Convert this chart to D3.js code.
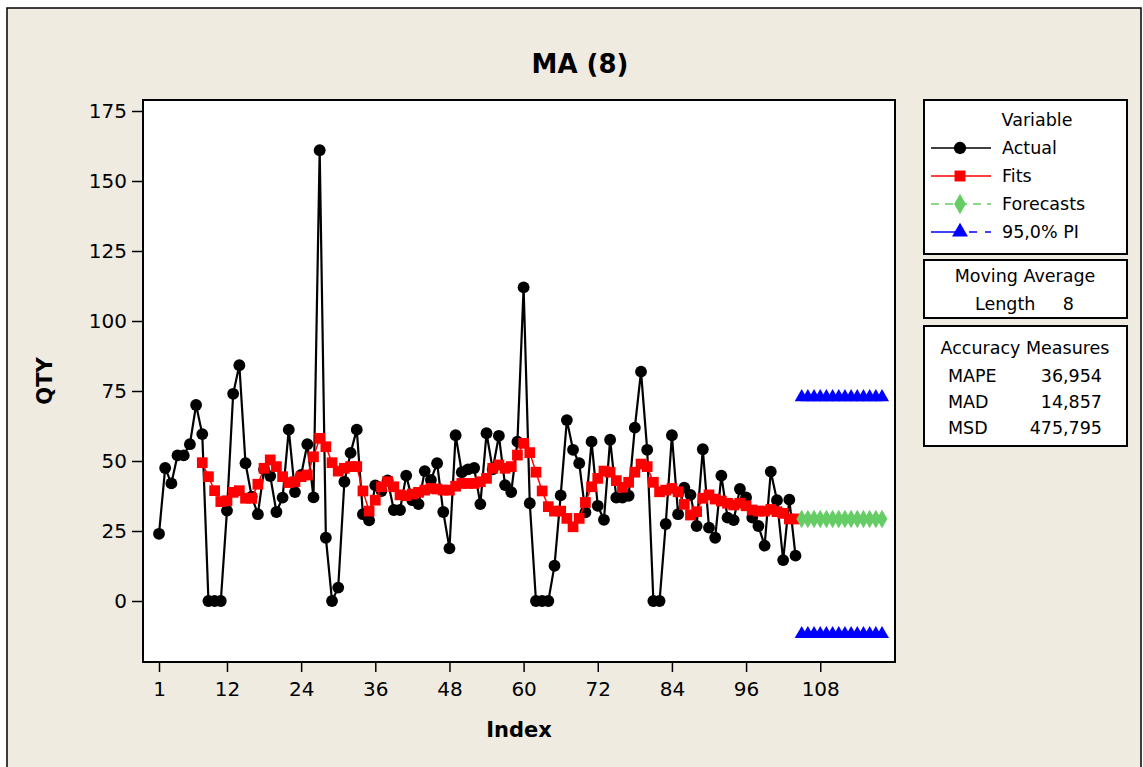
<!DOCTYPE html>
<html>
<head>
<meta charset="utf-8">
<script src="https://cdn.jsdelivr.net/npm/d3@7"></script>
<style>
  html, body { margin: 0; padding: 0; background: #fff; }
  svg { display: block; }
  text { font-family: "DejaVu Sans", Verdana, sans-serif; }
</style>
</head>
<body>
<svg id="chart"></svg>
<script>
// actual values, index 1..104
const actual = [24, 47.5, 42, 52, 52, 56, 70, 59.6, 0, 0, 0, 32.3, 74, 84.2, 49.2, 37.3,
  31, 47, 44.6, 31.8, 36.9, 61.2, 38.9, 45, 56, 37, 161, 22.6, 0, 4.8, 42.6, 52.9,
  61.2, 31, 28.8, 41.3, 39.3, 43.1, 32.5, 32.5, 44.8, 36, 34.6, 46.4, 43.2, 49.2, 31.8, 18.8,
  59.2, 46, 47, 47.5, 34.6, 59.9, 47, 59, 41.4, 38.9, 56.9, 112, 34.9, 0, 0, 0,
  12.6, 37.7, 64.6, 54, 49.2, 31.7, 56.9, 34, 29, 57.6, 36.9, 36.9, 37.6, 61.9, 81.9, 54,
  0, 0, 27.5, 59.2, 31, 40.5, 37.9, 26.8, 54.2, 26.2, 22.6, 44.8, 29.8, 28.9, 40, 37,
  29.8, 26.8, 19.8, 46.2, 36, 14.6, 36.2, 16.2];

// moving average fits, index 8..104
const fitsStart = 8;
const fits = [49.4, 44.4, 39.4, 35.5, 35.8, 38.8, 39.4, 36.7, 36.7, 41.7, 47.4, 50.4, 48,
  44.4, 42.3, 42.6, 44.4, 45, 51.5, 58.1, 55.1, 49.4, 46.4, 47.4, 48, 48, 39.3, 32.1,
  36, 40.8, 42.6, 40.8, 37.9, 37.6, 38.2, 38.8, 39.6, 40.2, 40, 39.6, 39.6, 41, 42, 42,
  42, 42.6, 43.8, 47.4, 48.6, 47.4, 48, 52.1, 56.3, 53, 46, 39.3, 33.7, 32.1, 32.1, 29.5,
  26.5, 29.5, 35.2, 40.8, 43.8, 46.4, 46, 43, 40.6, 42.4, 46, 48.9, 48, 42.4, 39, 39.6,
  40.2, 39, 34.5, 30.7, 31.9, 36.7, 37.9, 36.4, 35.7, 34.9, 34.3, 34.9, 34, 32.5, 32.1,
  32.1, 32.7, 31.9, 31.3, 29.3, 29.3];

// forecasts and 95% PI, index 105..118
const fcStart = 105;
const forecasts = [29.3, 29.3, 29.3, 29.3, 29.3, 29.3, 29.3, 29.3, 29.3, 29.3, 29.3, 29.3, 29.3, 29.3];
const upperPI = [72.8, 72.8, 72.8, 72.8, 72.8, 72.8, 72.8, 72.8, 72.8, 72.8, 72.8, 72.8, 72.8, 72.8];
const lowerPI = [-11.8, -11.8, -11.8, -11.8, -11.8, -11.8, -11.8, -11.8, -11.8, -11.8, -11.8, -11.8, -11.8, -11.8];

const xTicks = [1, 12, 24, 36, 48, 60, 72, 84, 96, 108];
const yTicks = [0, 25, 50, 75, 100, 125, 150, 175];

const legendItems = ["Actual", "Fits", "Forecasts", "95,0% PI"];
const measureNames = ["MAPE", "MAD", "MSD"];
const measureValues = ["36,954", "14,857", "475,795"];

const width = 1143, height = 767;
const L = 143, R = 895, T = 100, B = 662;

const svg = d3.select("#chart")
  .attr("width", width)
  .attr("height", height)
  .attr("viewBox", [0, 0, width, height]);

// outer panel
svg.append("rect")
  .attr("x", 7).attr("y", 8)
  .attr("width", 1134).attr("height", 780)
  .attr("fill", "#efebe1")
  .attr("stroke", "#000")
  .attr("stroke-width", 1.5);

const x = d3.scaleLinear().domain([-1.59, 120.1]).range([L, R]);
const y = d3.scaleLinear().domain([0, 175]).range([601, 111]);

// plot area
svg.append("rect")
  .attr("x", L).attr("y", T)
  .attr("width", R - L).attr("height", B - T)
  .attr("fill", "#fff")
  .attr("stroke", "#000")
  .attr("stroke-width", 2);

// title
svg.append("text")
  .attr("x", 580).attr("y", 73)
  .attr("text-anchor", "middle")
  .style("font-size", "26px")
  .style("font-weight", "bold")
  .text("MA (8)");

// axes
const yAxis = svg.append("g")
  .attr("transform", `translate(${L},0)`)
  .call(d3.axisLeft(y).tickValues(yTicks).tickSize(11).tickPadding(5));
const xAxis = svg.append("g")
  .attr("transform", `translate(0,${B})`)
  .call(d3.axisBottom(x).tickValues(xTicks).tickSize(10).tickPadding(10));
[yAxis, xAxis].forEach(g => {
  g.select(".domain").remove();
  g.selectAll("line").attr("stroke", "#000").attr("stroke-width", 1.5);
  g.selectAll("text")
    .attr("fill", "#000")
    .style("font-family", "'DejaVu Sans', Verdana, sans-serif")
    .style("font-size", "20px");
});

svg.append("text")
  .attr("transform", "translate(52,381) rotate(-90)")
  .attr("text-anchor", "middle")
  .style("font-size", "21px")
  .style("font-weight", "bold")
  .text("QTY");

svg.append("text")
  .attr("x", 519).attr("y", 737)
  .attr("text-anchor", "middle")
  .style("font-size", "21px")
  .style("font-weight", "bold")
  .text("Index");

// series data
const actualData = actual.map((v, i) => ({ i: i + 1, v }));
const fitsData = fits.map((v, i) => ({ i: i + fitsStart, v }));
const fcData = forecasts.map((v, i) => ({ i: i + fcStart, v }));
const upData = upperPI.map((v, i) => ({ i: i + fcStart, v }));
const loData = lowerPI.map((v, i) => ({ i: i + fcStart, v }));

const line = d3.line().x(d => x(d.i)).y(d => y(d.v));

const sym = (type, size) => d3.symbol().type(type).size(size);

function drawSeries(data, color, dash, symType, size, lw) {
  const g = svg.append("g");
  g.append("path")
    .datum(data)
    .attr("fill", "none")
    .attr("stroke", color)
    .attr("stroke-width", lw)
    .attr("stroke-dasharray", dash)
    .attr("d", line);
  g.selectAll("path.m")
    .data(data)
    .join("path")
    .attr("class", "m")
    .attr("transform", d => `translate(${x(d.i)},${y(d.v)})`)
    .attr("fill", color)
    .attr("d", sym(symType, size));
}

drawSeries(actualData, "#000", null, d3.symbolCircle, 110, 2.2);
drawSeries(fitsData, "#ff0000", null, d3.symbolSquare, 115, 1.5);
drawSeries(upData, "#0000ff", "30,8,8,8", d3.symbolTriangle, 85, 1.5);
drawSeries(loData, "#0000ff", "30,8,8,8", d3.symbolTriangle, 85, 1.5);
drawSeries(fcData, "#66cc66", "8,6", d3.symbolDiamond, 100, 1.5);

// legend box
const boxX = 924, boxW = 203;
const box = (yy, h) => svg.append("rect")
  .attr("x", boxX).attr("y", yy)
  .attr("width", boxW).attr("height", h)
  .attr("fill", "#fff")
  .attr("stroke", "#000")
  .attr("stroke-width", 2);

box(100, 154);
box(260, 58);
box(326, 120);

const legText = (tx, ty, s, anchor = "start") => svg.append("text")
  .attr("x", tx).attr("y", ty)
  .attr("text-anchor", anchor)
  .style("font-size", "17.5px")
  .text(s);

legText(1037, 126, "Variable", "middle");

const legStyles = [
  { color: "#000", dash: null, type: d3.symbolCircle, size: 120 },
  { color: "#ff0000", dash: null, type: d3.symbolSquare, size: 120 },
  { color: "#66cc66", dash: "8,6", type: d3.symbolDiamond, size: 120 },
  { color: "#0000ff", dash: "30,8,8,8", type: d3.symbolTriangle, size: 110 }
];
legendItems.forEach((name, k) => {
  const ly = 148 + k * 28;
  const st = legStyles[k];
  svg.append("line")
    .attr("x1", 931).attr("x2", 991)
    .attr("y1", ly).attr("y2", ly)
    .attr("stroke", st.color)
    .attr("stroke-width", 1.5)
    .attr("stroke-dasharray", st.dash);
  svg.append("path")
    .attr("transform", `translate(960,${ly})`)
    .attr("fill", st.color)
    .attr("d", sym(st.type, st.size));
  legText(1002, ly + 6, name);
});

legText(1025, 282, "Moving Average", "middle");
legText(975, 310, "Length");
legText(1074, 310, "8", "end");

legText(1025, 354, "Accuracy Measures", "middle");
measureNames.forEach((n, k) => {
  legText(948, 382 + k * 26, n);
  legText(1102, 382 + k * 26, measureValues[k], "end");
});
</script>
</body>
</html>
